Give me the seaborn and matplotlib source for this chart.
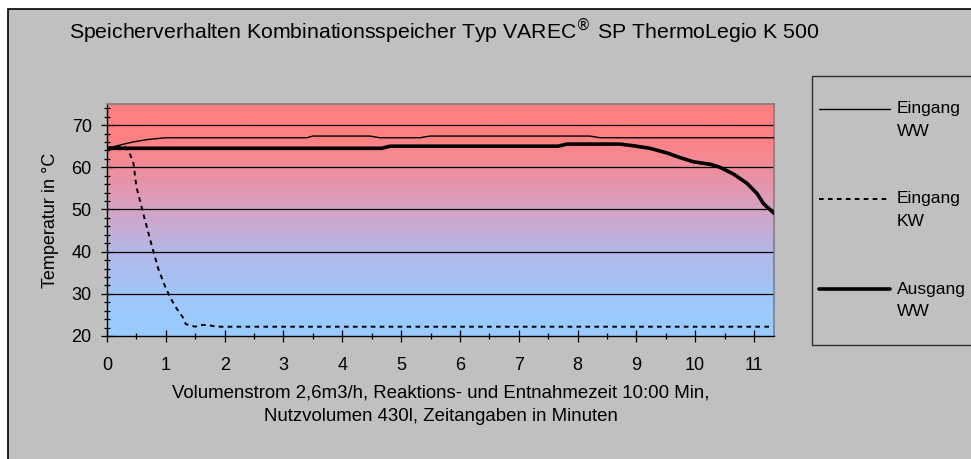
import matplotlib
matplotlib.use("Agg")
import matplotlib.pyplot as plt
import matplotlib.patches as mpatches
from matplotlib.colors import LinearSegmentedColormap
from matplotlib.ticker import MultipleLocator
import seaborn as sns
import numpy as np

sns.set_style("ticks")
plt.rcParams["font.family"] = ["Liberation Sans", "DejaVu Sans"]
plt.rcParams["text.color"] = "black"
plt.rcParams["axes.labelcolor"] = "black"

# Zeit in Minuten / Temperatur in °C
zeit_eingang_ww = [0, 0.2, 0.44, 0.7, 1.0, 3.4, 3.5, 4.47, 4.64, 5.32, 5.49, 8.21, 8.38, 11.34]
temp_eingang_ww = [64.5, 65.2, 66.0, 66.6, 67.0, 67.0, 67.4, 67.4, 67.0, 67.0, 67.4, 67.4, 67.0, 67.0]

zeit_eingang_kw = [0, 0.3, 0.38, 0.45, 0.5, 0.63, 0.75, 0.87, 1.0, 1.1, 1.18, 1.29, 1.34, 1.5,
                   1.58, 1.72, 1.86, 11.3]
temp_eingang_kw = [64.6, 65.0, 63.5, 60.9, 55.4, 48.3, 42.0, 36.0, 31.3, 28.5, 26.6, 24.4, 22.8, 22.2,
                   22.6, 22.6, 22.2, 22.2]

zeit_ausgang_ww = [0, 4.67, 4.81, 7.67, 7.82, 8.72, 8.95, 9.23, 9.52, 9.74, 9.97, 10.26, 10.42,
                   10.65, 10.88, 11.05, 11.16, 11.34]
temp_ausgang_ww = [64.5, 64.5, 65.0, 65.0, 65.5, 65.5, 65.1, 64.5, 63.4, 62.3, 61.3, 60.7, 60.0,
                   58.4, 56.2, 53.8, 51.4, 49.1]

labels = [" \nEingang\nWW", " \nEingang\nKW", " \nAusgang\nWW"]
x_ticks = list(range(0, 12))
y_ticks = [20, 30, 40, 50, 60, 70]

fig = plt.figure(figsize=(9.71, 4.59), dpi=100, facecolor="white")

# grauer Diagrammbereich mit Rahmen
fig.patches.append(mpatches.Rectangle((8 / 971, -0.1), 1.2, 1.1 - 9 / 459,
                                      transform=fig.transFigure, facecolor="#C0C0C0",
                                      edgecolor="black", lw=1.2, zorder=-5))
# Legendenrahmen
fig.patches.append(mpatches.Rectangle((812 / 971, 1 - 345 / 459), 0.3, (345 - 76) / 459,
                                      transform=fig.transFigure, facecolor="none",
                                      edgecolor="#303030", lw=1.0, zorder=-4))

ax = fig.add_axes([107 / 971, 1 - 336 / 459, (774 - 107) / 971, (336 - 104) / 459])
ax.set_facecolor("none")
xmax, ymin, ymax = 11.34, 20, 75

# Farbverlauf rot -> blau
cmap = LinearSegmentedColormap.from_list("verlauf", [
    (0.0, "#99CCFF"), (0.15, "#9DC8FA"), (0.36, "#B2B8E8"), (0.55, "#D6A2C4"),
    (0.72, "#EE8E9C"), (0.86, "#FF8080"), (1.0, "#FF8080")])
grad = np.linspace(0, 1, 256).reshape(-1, 1)
ax.imshow(grad, extent=[0, xmax, ymin, ymax], origin="lower", aspect="auto", cmap=cmap, zorder=0)

for yv in y_ticks[1:]:
    ax.axhline(yv, color="black", lw=0.9, zorder=1)

sns.lineplot(x=zeit_eingang_ww, y=temp_eingang_ww, ax=ax, color="black", lw=1.0,
             label=labels[0], zorder=3)
sns.lineplot(x=zeit_eingang_kw, y=temp_eingang_kw, ax=ax, color="black", lw=1.4,
             linestyle=(0, (2.4, 2.2)), label=labels[1], zorder=3)
sns.lineplot(x=zeit_ausgang_ww, y=temp_ausgang_ww, ax=ax, color="black", lw=2.6,
             label=labels[2], zorder=4)

ax.set_xlim(0, xmax)
ax.set_ylim(ymin, ymax)
ax.set_xticks(x_ticks)
ax.set_yticks(y_ticks)
ax.xaxis.set_minor_locator(MultipleLocator(0.5))
ax.yaxis.set_minor_locator(MultipleLocator(2))
ax.tick_params(which="major", direction="inout", length=8, width=0.9, colors="black",
               labelsize=13)
ax.tick_params(which="minor", direction="inout", length=4.5, width=0.9, colors="black")
ax.tick_params(axis="x", which="major", pad=11)
ax.tick_params(axis="y", which="major", pad=7)

for side in ["top", "right"]:
    ax.spines[side].set_color("#808080")
    ax.spines[side].set_linewidth(1.2)
for side in ["left", "bottom"]:
    ax.spines[side].set_color("black")
    ax.spines[side].set_linewidth(1.0)

ax.set_xlabel("Volumenstrom 2,6m3/h, Reaktions- und Entnahmezeit 10:00 Min,\n"
              "Nutzvolumen 430l, Zeitangaben in Minuten", fontsize=13.4, labelpad=8,
              linespacing=1.5)
ax.set_ylabel("Temperatur in °C", fontsize=13, labelpad=9)

fig.text(69 / 971, 1 - 31 / 459, "Speicherverhalten Kombinationsspeicher Typ VAREC$^{®}$ SP ThermoLegio K 500",
         fontsize=15.3, ha="left", va="center")

leg = ax.legend(loc="upper left", bbox_to_anchor=(812 / 971, 1 - 72 / 459),
                bbox_transform=fig.transFigure, frameon=False, fontsize=12.5,
                handlelength=4.1, handletextpad=0.4, labelspacing=1.74, borderaxespad=0)
for t in leg.get_texts():
    t.set_linespacing(1.62)

fig.savefig("out.png", dpi=100, facecolor=fig.get_facecolor())
